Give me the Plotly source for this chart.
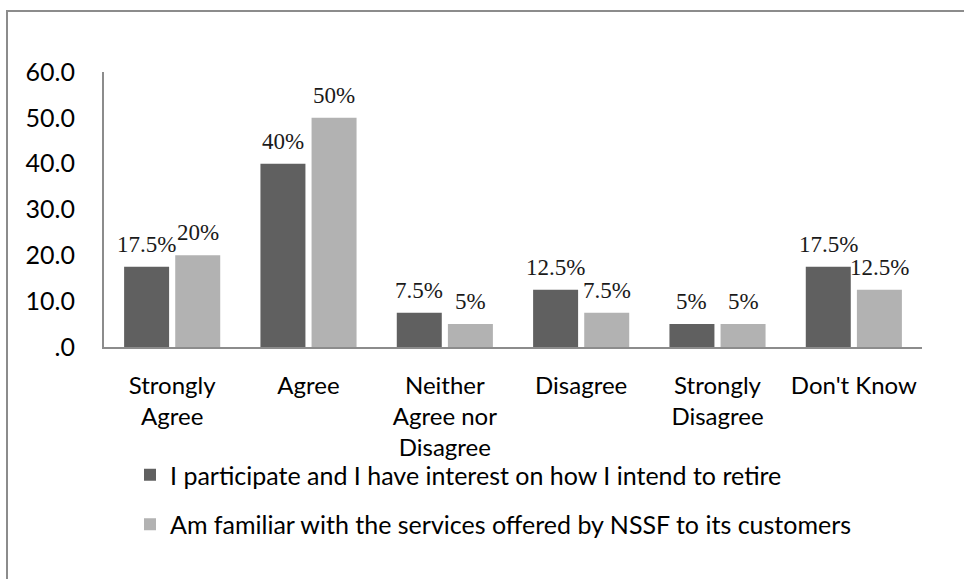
import plotly.graph_objects as go

# Survey responses (percent of respondents)
categories = ["Strongly<br>Agree", "Agree", "Neither<br>Agree nor<br>Disagree",
              "Disagree", "Strongly<br>Disagree", "Don't Know"]
participate = [17.5, 40, 7.5, 12.5, 5, 17.5]
familiar = [20, 50, 5, 7.5, 5, 12.5]
series_names = [
    "I participate and I have interest on how I intend to retire",
    "Am familiar with the services offered by NSSF to its customers",
]
y_ticks = [0, 10, 20, 30, 40, 50, 60]
y_tick_labels = [".0", "10.0", "20.0", "30.0", "40.0", "50.0", "60.0"]

W, H = 964, 579
ML, MR, MT, MB = 104, 42, 72, 232
plot_w = W - ML - MR
plot_h = H - MT - MB

BARGAP = 0.25
label_font = dict(family="Liberation Serif, Times New Roman, serif", size=23, color="#1a1a1a")
sans = "Lato, Open Sans, Noto Sans, sans-serif"
FS = 25

fig = go.Figure()
series = [
    (series_names[0], participate, "#606060", "a"),
    (series_names[1], familiar, "#b2b2b2", "b"),
]
for name, vals, color, grp in series:
    fig.add_trace(go.Bar(
        x=categories, y=vals, name=name, legendgroup=grp,
        marker=dict(color=color, line=dict(color=color, width=0)),
    ))

# value labels above each bar, centred on the bar within its group
n_series = len(series)
slot = (1 - BARGAP) / n_series
for k, (_, vals, _, _) in enumerate(series):
    offset = -(1 - BARGAP) / 2 + slot * (k + 0.5)
    for i, v in enumerate(vals):
        fig.add_annotation(
            x=i + offset, y=v, xref="x", yref="y",
            text=f"{v:g}%", showarrow=False,
            xanchor="center", yanchor="bottom", yshift=8,
            font=label_font,
        )

# outer chart frame (in paper coordinates relative to the plot area)
def px_x(x):
    return (x - ML) / plot_w

def px_y(y):
    return (MT + plot_h - y) / plot_h

fig.add_shape(type="rect", xref="paper", yref="paper",
              x0=px_x(7), x1=px_x(975), y0=px_y(590), y1=px_y(11),
              line=dict(color="#8c8c8c", width=2), fillcolor="rgba(0,0,0,0)", layer="below")

fig.update_layout(
    width=W, height=H,
    margin=dict(l=ML, r=MR, t=MT, b=MB, pad=0),
    paper_bgcolor="white", plot_bgcolor="white",
    barmode="group", bargap=BARGAP, bargroupgap=0.12,
    font=dict(family=sans, size=FS, color="#000000"),
    showlegend=True,
    legend=dict(
        orientation="v", x=px_x(130), xanchor="left", y=px_y(452), yanchor="top",
        font=dict(family=sans, size=FS, color="#000000"),
        tracegroupgap=14, traceorder="grouped",
        itemwidth=30, bgcolor="rgba(0,0,0,0)",
    ),
    xaxis=dict(
        showline=True, linecolor="#8c8c8c", linewidth=2,
        ticks="", showgrid=False, tickfont=dict(family=sans, size=24),
        ticklabelstandoff=16,
    ),
    yaxis=dict(
        range=[0, 60], tickvals=y_ticks, ticktext=y_tick_labels,
        showline=True, linecolor="#8c8c8c", linewidth=2,
        ticks="", showgrid=False, zeroline=False,
        tickfont=dict(family=sans, size=FS), ticklabelstandoff=22,
    ),
)

fig.write_html("out.html")
